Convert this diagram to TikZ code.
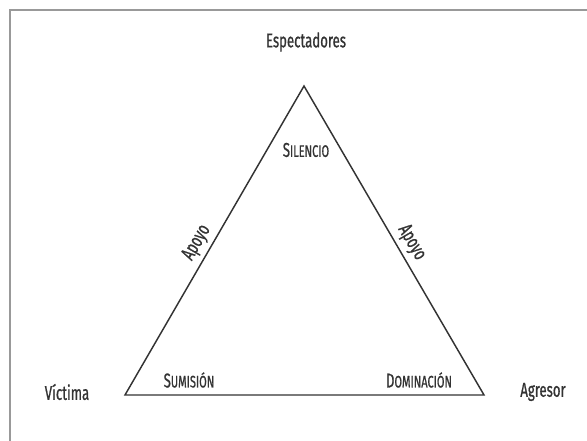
\documentclass[tikz,border=0pt]{standalone}
\usepackage{fontspec}
\setmainfont{Fira Sans}[FakeStretch=0.66, FakeBold=0.8]
\newcommand{\smcap}[2]{{\fontsize{15}{15}\selectfont #1}{\fontsize{12.5}{12.5}\selectfont #2}}
\begin{document}
\begin{tikzpicture}[x=0.75pt, y=-0.75pt, font=\fontsize{15}{15}\selectfont, text=black!80]
\useasboundingbox (0,0) rectangle (587,441);
\draw [gray!80, line width=1.3pt] (10,441) -- (10,10) -- (587,10);
\coordinate (top) at (304,86);
\coordinate (victim) at (125,395);
\coordinate (aggressor) at (484,395);
\draw [black!80, line width=1.1pt] (victim)
  -- node [sloped, pos=0.47, yshift=10.5pt] (apoyoL) {Apoyo} (top)
  -- node [sloped, pos=0.53, yshift=10.5pt] (apoyoR) {Apoyo} (aggressor)
  -- cycle;
\node (espect) at (306,42) {Espectadores};
\node (silencio) at (306,150) {\smcap{S}{ILENCIO}};
\node (sumision) at (189,380) {\smcap{S}{UMISIÓN}};
\node (dominacion) at (419,380) {\smcap{D}{OMINACIÓN}};
\node (victima) at (67,392) {Víctima};
\node (agresor) at (543,392) {Agresor};
\end{tikzpicture}
\end{document}
